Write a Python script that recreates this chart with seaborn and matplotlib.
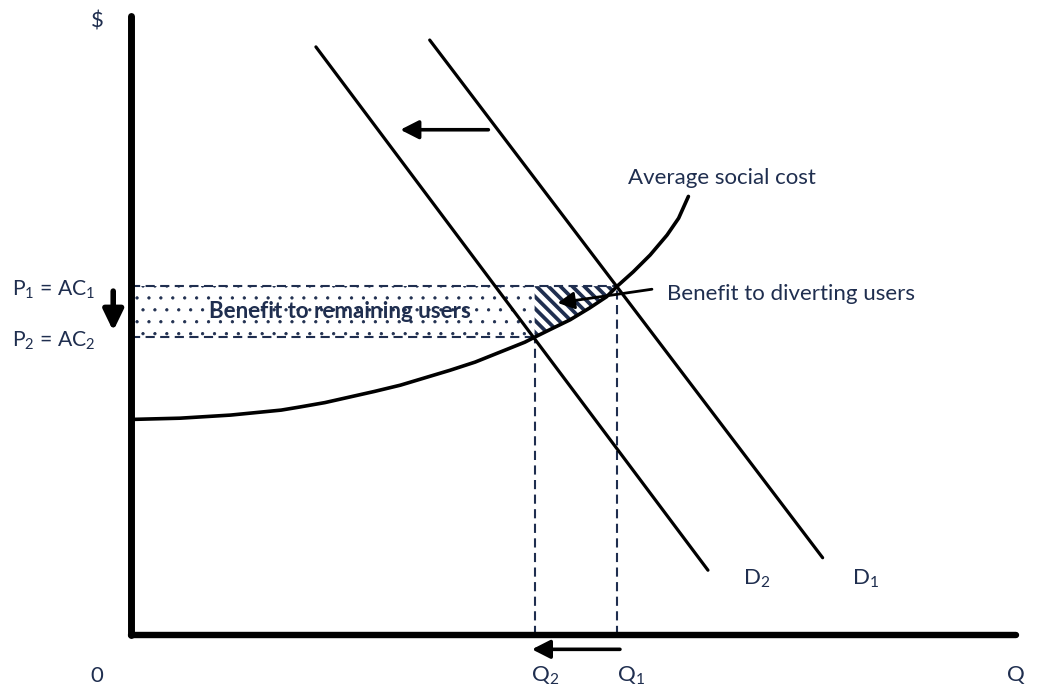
import numpy as np
import pandas as pd
import matplotlib
matplotlib.use("Agg")
import matplotlib.pyplot as plt
import seaborn as sns

# ---------------- data (axis units 0..100) ----------------
d1_q = [33.6, 77.8]
d1_p = [95.5, 12.4]
d2_q = [20.8, 64.9]
d2_p = [94.4, 10.4]

asc_q = [0.0, 5.5, 11.2, 16.9, 19.0, 21.8, 24.6, 27.4, 30.3, 33.1, 35.9, 38.7, 41.5, 44.3,
         45.4, 47.1, 49.4, 51.6, 53.5, 54.7, 56.5, 58.4, 60.3, 61.6, 62.7]
asc_p = [34.6, 34.8, 35.3, 36.1, 36.6, 37.3, 38.2, 39.1, 40.1, 41.3, 42.5, 43.8, 45.4, 47.0,
         47.8, 49.0, 50.6, 52.5, 54.3, 56.0, 58.3, 61.0, 64.2, 66.9, 70.4]

Q1, P1 = 54.7, 56.0
Q2, P2 = 45.4, 47.8

tri_q = [45.4, 47.1, 49.4, 51.6, 53.5, 54.7]
tri_low = [47.8, 49.0, 50.6, 52.5, 54.3, 56.0]

axis_q_end = 99.6
axis_p_end = 99.3

labels = {
    "dollar": "$",
    "zero": "0",
    "q": "Q",
    "p1": "P$_1$ = AC$_1$",
    "p2": "P$_2$ = AC$_2$",
    "q1": "Q$_1$",
    "q2": "Q$_2$",
    "d1": "D$_1$",
    "d2": "D$_2$",
    "asc": "Average social cost",
    "divert": "Benefit to diverting users",
    "remain": "Benefit to remaining users",
}

# ---------------- style ----------------
DPI = 143
S = 100 / DPI  # keep visual sizes as if drawn at 100 dpi

sns.set_theme(style="white")
plt.rcParams["font.family"] = ["Lato", "DejaVu Sans"]
plt.rcParams["mathtext.fontset"] = "custom"
plt.rcParams["mathtext.rm"] = "Lato"
plt.rcParams["mathtext.it"] = "Lato:italic"
plt.rcParams["mathtext.bf"] = "Lato:bold"

NAVY = "#1F2E4F"
FS = 16 * S

fig = plt.figure(figsize=(1046 / DPI, 686 / DPI), dpi=DPI)
ax = fig.add_axes([131 / 1046, 51 / 686, 889 / 1046, 623 / 686])
ax.set_xlim(0, 100)
ax.set_ylim(0, 100)
ax.set_axis_off()

# filled areas
with plt.rc_context({"hatch.linewidth": 0.6 * S}):
    ax.fill_between([0, Q2], [P2, P2], [P1, P1], facecolor="white",
                    edgecolor=NAVY, hatch="..", linewidth=0, zorder=1)
with plt.rc_context({"hatch.linewidth": 2.7 * S}):
    ax.fill_between(tri_q, tri_low, [P1] * len(tri_q), facecolor="white",
                    edgecolor=NAVY, hatch="\\\\\\\\", linewidth=0, zorder=1)

# dashed guides
dash = (0, (4.4, 2.6))
glw = 1.5 * S
ax.plot([0, Q1], [P1, P1], color=NAVY, lw=glw, ls=dash, zorder=2)
ax.plot([0, Q2], [P2, P2], color=NAVY, lw=glw, ls=dash, zorder=2)
ax.plot([Q1, Q1], [0, P1], color=NAVY, lw=glw, ls=dash, zorder=2)
ax.plot([Q2, Q2], [0, P2], color=NAVY, lw=glw, ls=dash, zorder=2)

# curves
sns.lineplot(x=d1_q, y=d1_p, ax=ax, color="black", lw=2.3 * S, sort=False, zorder=3)
sns.lineplot(x=d2_q, y=d2_p, ax=ax, color="black", lw=2.3 * S, sort=False, zorder=3)
sns.lineplot(x=asc_q, y=asc_p, ax=ax, color="black", lw=2.6 * S, sort=False, zorder=3)

# axes
ax.plot([0, axis_q_end], [0, 0], color="black", lw=4.6 * S, solid_capstyle="round", clip_on=False, zorder=4)
ax.plot([0, 0], [0, axis_p_end], color="black", lw=5.0 * S, solid_capstyle="round", clip_on=False, zorder=4)

# arrows
def arrow(tail, head, lw=2.6, hl=0.55, hw=0.28):
    ax.annotate("", xy=head, xytext=tail, annotation_clip=False,
                arrowprops=dict(arrowstyle=f"-|>,head_length={hl},head_width={hw}",
                                lw=lw * S, color="black", mutation_scale=20 * S,
                                shrinkA=0, shrinkB=0), zorder=5)

arrow((40.2, 81.1), (30.3, 81.1))
arrow((-2.0, 55.2), (-2.0, 48.8), lw=4.0, hl=0.62, hw=0.3)
arrow((55.0, -2.3), (45.1, -2.3))
arrow((58.6, 55.5), (48.0, 53.3), lw=2.0, hl=0.5, hw=0.26)

# text
kw = dict(color=NAVY, fontsize=FS, clip_on=False)
ax.text(-3.8, 98.4, labels["dollar"], ha="center", va="center", **kw)
ax.text(-3.8, -6.6, labels["zero"], ha="center", va="center", **kw)
ax.text(99.5, -6.4, labels["q"], ha="center", va="center", **kw)
kwp = dict(kw, fontsize=15.2 * S)
ax.text(-13.4, 54.5, labels["p1"], ha="left", va="baseline", **kwp)
ax.text(-13.4, 46.3, labels["p2"], ha="left", va="baseline", **kwp)
ax.text(46.6, -6.6, labels["q2"], ha="center", va="center", **kw)
ax.text(56.2, -6.6, labels["q1"], ha="center", va="center", **kw)
ax.text(68.8, 9.0, labels["d2"], ha="left", va="center", **kw)
ax.text(81.1, 9.0, labels["d1"], ha="left", va="center", **kw)
ax.text(55.9, 73.4, labels["asc"], ha="left", va="center", **kw)
ax.text(60.3, 54.7, labels["divert"], ha="left", va="center", **kw)
ax.text(23.5, 51.9, labels["remain"], ha="center", va="center",
        fontweight="bold", **kw)

fig.savefig("out.png", dpi=DPI)
